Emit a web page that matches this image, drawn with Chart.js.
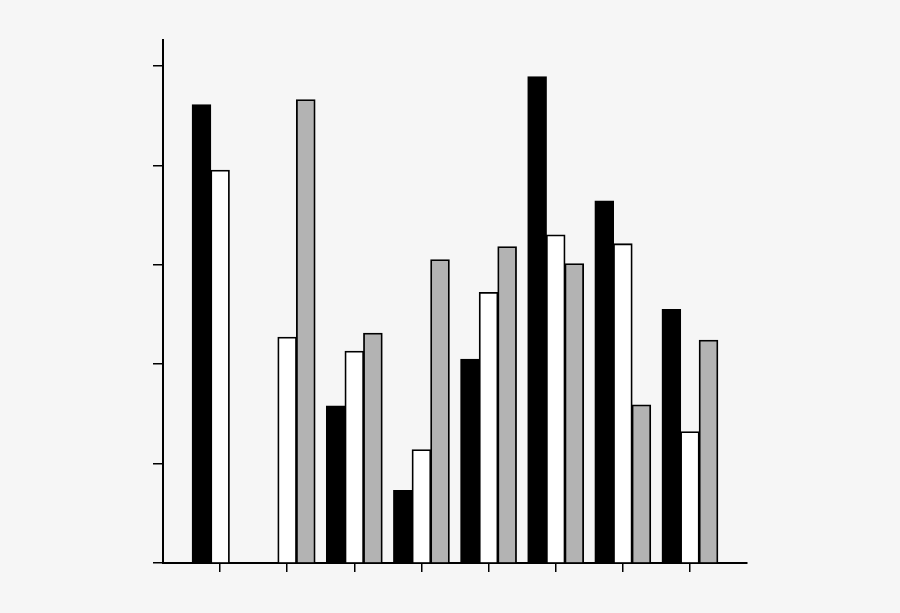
<!DOCTYPE html>
<html>
<head>
<meta charset="utf-8">
<script src="https://cdn.jsdelivr.net/npm/chart.js@4"></script>
<style>
  html, body { margin: 0; padding: 0; background: #f6f6f6; }
  #chart { display: block; }
</style>
</head>
<body>
<canvas id="chart" width="900" height="613"></canvas>
<script>
// eight groups, three series each (black / white / grey)
const categories = ['1', '2', '3', '4', '5', '6', '7', '8'];
const seriesBlack = [4.61, 0, 1.58, 0.73, 2.05, 4.89, 3.64, 2.55];
const seriesWhite = [3.95, 2.27, 2.13, 1.14, 2.72, 3.30, 3.21, 1.32];
const seriesGrey = [0, 4.66, 2.31, 3.05, 3.18, 3.01, 1.59, 2.24];
const yTicks = [0, 1, 2, 3, 4, 5];

function points(values) {
    return values.map((v, i) => ({ x: i, y: v }));
}

function makeSet(label, values, fill) {
    return {
        label: label,
        data: points(values),
        backgroundColor: fill,
        borderColor: '#000000',
        borderWidth: 1.8,
        borderSkipped: 'bottom',
        inflateAmount: 0.5,
        categoryPercentage: 0.83,
        barPercentage: 1.0
    };
}

const ctx = document.getElementById('chart').getContext('2d');
new Chart(ctx, {
    type: 'bar',
    data: {
        datasets: [
            makeSet('black', seriesBlack, '#000000'),
            makeSet('white', seriesWhite, '#ffffff'),
            makeSet('grey', seriesGrey, '#b3b3b3')
        ]
    },
    options: {
        responsive: false,
        animation: false,
        layout: {
            padding: { left: 153, right: 153, top: 40, bottom: 41 }
        },
        plugins: {
            legend: { display: false },
            tooltip: { enabled: false }
        },
        scales: {
            x: {
                type: 'linear',
                offset: false,
                min: -0.85,
                max: categories.length - 0.15,
                afterBuildTicks: (scale) => {
                    scale.ticks = categories.map((c, i) => ({ value: i }));
                },
                ticks: { display: false },
                grid: {
                    offset: false,
                    drawOnChartArea: false,
                    drawTicks: true,
                    tickLength: 9,
                    color: '#000000',
                    lineWidth: 1.5
                },
                border: { display: true, color: '#000000', width: 2 }
            },
            y: {
                min: 0,
                max: 5.26,
                afterBuildTicks: (scale) => {
                    scale.ticks = yTicks.map(v => ({ value: v }));
                },
                ticks: { display: false },
                grid: {
                    drawOnChartArea: false,
                    drawTicks: true,
                    tickLength: 10,
                    color: '#000000',
                    lineWidth: 1.5
                },
                border: { display: true, color: '#000000', width: 2 }
            }
        }
    }
});
</script>
</body>
</html>
